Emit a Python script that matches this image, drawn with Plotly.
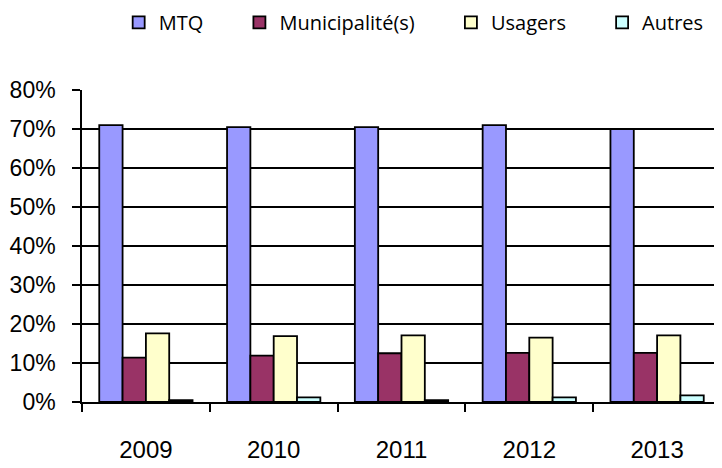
import plotly.graph_objects as go

years = ["2009", "2010", "2011", "2012", "2013"]
mtq = [0.71, 0.705, 0.705, 0.71, 0.70]
municipalites = [0.114, 0.119, 0.125, 0.126, 0.126]
usagers = [0.176, 0.169, 0.171, 0.165, 0.171]
autres = [0.005, 0.012, 0.005, 0.012, 0.017]

series = [
    ("MTQ", mtq, "#9999FF"),
    ("Municipalité(s)", municipalites, "#993366"),
    ("Usagers", usagers, "#FFFFCC"),
    ("Autres", autres, "#CCFFFF"),
]

pad = "\u00a0" * 6

fig = go.Figure()
for i, (name, vals, color) in enumerate(series):
    label = name + (pad if i < len(series) - 1 else "")
    fig.add_trace(go.Bar(
        x=years, y=vals, name=label,
        marker=dict(color=color, line=dict(color="black", width=1.8)),
    ))

# the page body adds an 8px offset; figure is sized to fit the window
fig.update_layout(
    width=714, height=460,
    margin=dict(l=74, r=1, t=82, b=66, autoexpand=False),
    paper_bgcolor="white", plot_bgcolor="white",
    barmode="group", bargap=0.27, bargroupgap=0,
    font=dict(family="Liberation Sans, Arial, sans-serif", color="black"),
    legend=dict(orientation="h", x=0.155, xanchor="left", xref="container",
                y=1.279, yanchor="top", yref="paper",
                font=dict(family="Open Sans, sans-serif", size=20),
                itemwidth=30, traceorder="normal"),
    showlegend=True,
)
fig.update_yaxes(
    range=[0, 0.8], dtick=0.1, tickformat=".0%",
    showgrid=True, gridcolor="black", gridwidth=1.5,
    showline=True, linecolor="black", linewidth=1.5,
    ticks="outside", ticklen=8, tickcolor="black", tickwidth=1.5,
    tickfont=dict(size=23), ticklabelstandoff=12, zeroline=False,
)
fig.update_xaxes(
    showline=True, linecolor="black", linewidth=1.5,
    ticks="outside", tickson="boundaries", ticklen=8, tickcolor="black", tickwidth=1.5,
    tickfont=dict(size=24), ticklabelstandoff=25,
)
fig.write_html("out.html")
